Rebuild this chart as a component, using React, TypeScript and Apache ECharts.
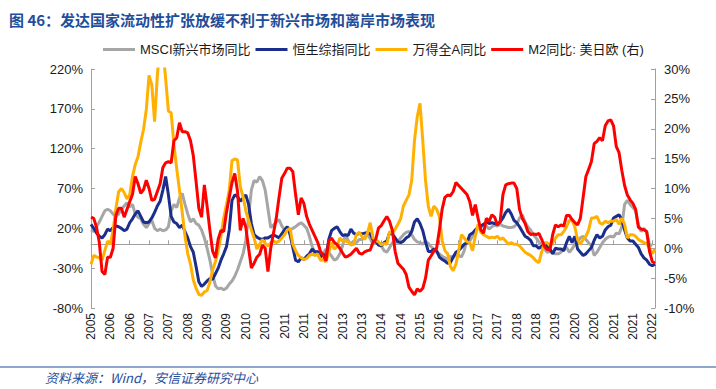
import React, { useEffect, useRef } from "react";
import * as echarts from "echarts";

// Monthly categories, July 2005 .. July 2022
const START_YEAR = 2005;
const START_MONTH = 7;
const N_MONTHS = 205;
const months: string[] = Array.from({ length: N_MONTHS }, (_, i) => {
  const t = START_YEAR * 12 + (START_MONTH - 1) + i;
  const y = Math.floor(t / 12);
  const m = (t % 12) + 1;
  return `${y}-${m < 10 ? "0" + m : m}`;
});

const seriesNames = ["MSCI新兴市场同比", "恒生综指同比", "万得全A同比", "M2同比: 美日欧 (右)"];

// MSCI emerging markets YoY (%)
const msci = [
  18, 16, 22, 28, 35, 42, 44, 42, 38, 35, 38, 44, 48, 52, 47, 50, 38, 34, 32, 25, 21, 26, 30, 20, 17, 19, 17, 18, 22, 42, 50, 46, 58, 64, 50,
  38, 28, 32, 26, 24, 18, 8, -5, -20, -38, -52, -56, -55, -57, -55, -50, -46, -40, -32, -22, -12, 5, 35, 68, 80, 78, 85, 80, 68, 45, 21, 24, 28, 31,
  23, 18, 22, 18, 20, 22, 25, 27, 24, 20, 10, -3, -10, -14, -16, -11, -6, -10, -15, -20, -18, -12, -2, 12, 5, 0, 4, 2, 6, 6, 9, 12, 7,
  0, 2, 0, -2, -8, -10, -4, 2, 2, 3, 8, 12, 15, 16, 12, 6, 3, 2, 0, 4, 1, -3, -6, -10, -12, -15, -17, -19, -15, -17, -12, -14, -16, -8,
  6, 4, 10, 16, 22, 21, 25, 23, 19, 22, 24, 23, 25, 23, 22, 21, 21, 22, 25, 33, 37, 28, 22, 18, 12, 8, 3, -2, -6, -10, -9, -11, -12,
  -12, -10, -5, -4, -10, -6, 0, 3, 8, 10, 6, 2, -2, -14, -10, -4, 2, 6, 9, 10, 9, 14, 13, 22, 50, 55, 50, 46, 42, 24, 16, 20, 15, 0, -2,
];

// Hang Seng Composite YoY (%)
const hsci = [
  25, 20, 14, 10, 8, 12, 19, 17, 21, 23, 22, 20, 17, 19, 27, 32, 38, 42, 35, 28, 27, 28, 33, 40, 48, 54, 68, 85, 62, 35, 28, 26, 21, 24, 16,
  8, -3, -10, -28, -47, -53, -50, -46, -43, -44, -37, -30, -20, -12, -3, 18, 55, 62, 60, 54, 58, 62, 50, 26, 12, 9, 7, 6, 8, 8, 10, 12, 10, 8,
  13, 18, 22, 12, -4, -20, -22, -17, -19, -15, -12, -6, -10, -9, -16, -12, -18, 6, 17, 20, 22, 16, 11, 12, 11, 19, 14, 12, 14, 13, 14, 15, 13, 6,
  4, -1, -2, 2, 4, 14, 13, 8, 3, 2, 4, 8, 10, 16, 28, 32, 26, 17, 3, -9, -9, -6, -8, -16, -19, -21, -24, -23, -16, -10, -8, -4, 0, 2,
  12, 14, 18, 21, 23, 25, 28, 26, 27, 26, 25, 28, 33, 40, 44, 38, 30, 27, 22, 16, 10, 8, 5, -2, -2, -5, -3, 0, -2, -6, -12, -5, -6,
  -6, -8, 2, 10, 2, 10, -6, -10, -14, -12, -8, -4, 5, 12, 8, 10, 18, 22, 24, 33, 35, 37, 31, 18, 8, 4, 4, 0, -4, -12, -17, -20, -25, -27, -25,
];

// Wind All A YoY (%)
const windA = [
  -25, -14, -16, -17, -20, -8, 4, 0, 18, 45, 66, 70, 65, 57, 62, 85, 100, 110, 128, 144, 169, 212, 200, 154, 212, 250, 245, 208, 167, 165, 125, 95, 68, 40, 10,
  -12, -25, -45, -55, -63, -64, -60, -58, -48, -32, -22, -8, 10, 33, 50, 68, 105, 107, 106, 72, 60, 42, 30, 18, 8, -6, 0, 6, 1, -2, 2, 4, 2, 4,
  8, 12, 18, 20, 0, -8, -14, -17, -19, -18, -14, -12, -14, -12, -20, -19, -22, -10, 2, -6, -3, 8, 4, 4, 3, -1, 0, 12, 15, 10, 6, 14, 27, 8,
  5, 3, -1, 1, 0, 16, 14, 19, 25, 32, 48, 55, 62, 80, 130, 160, 177, 130, 80, 48, 35, 48, 44, 35, 5, -8, -12, -28, -33, -25, -8, 12, 8, 3,
  2, -8, 10, 25, 15, 12, 10, 8, 9, 8, 10, 6, 8, 4, 0, 2, 0, 0, -2, -6, -10, -12, -14, -17, -21, -23, -10, 2, 2, -2, 2, 8, 12,
  12, 16, 22, 30, 30, 22, 6, 0, 6, 10, 18, 33, 33, 35, 27, 25, 29, 27, 29, 29, 31, 25, 33, 25, 8, 12, 12, 10, 6, 4, 2, 1, -5, -12, -6,
];

// M2 YoY US+Japan+Euro (%), right axis
const m2 = [
  5.2, 5.0, 3.5, 1, -3.9, -4.4, -1.5, -1.5, 0, 5.5, 6.7, 6.7, 5.2, 6.5, 7.8, 9, 12, 10.8, 9.2, 9.8, 11.4, 10, 8, 8.2, 9.5, 10.8, 13.5, 14.3, 14.5, 14.3, 18, 18.5, 21, 19.5, 19.5,
  19.3, 18, 15.5, 11.2, 6.7, 5.2, 10.6, 7, 3, -0.5, -1.6, 1.5, 3, 2.8, 6, 8.5, 11, 12.5, 9.5, 3, 5, 3.5, 0, -3.3, -2.5, -1.5, -1, 0.5, 0, -3.9, 0, 2.5, 5, 8.5,
  11.7, 12.5, 13.4, 13.4, 12.8, 9, 5.6, 8.4, 7.5, 5.3, 4, 3, 2, 1, -0.5, -1.2, -2.1, 1.2, 1.7, 1, 0.6, 0, -0.8, -1.5, -1.3, -1, -0.5, 0, -0.8, -1, -0.6, -0.4, -0.3, 1,
  1.5, 3.4, 3.8, 4.6, 5.3, 4.5, 3, -0.5, -2.5, -3, -3.5, -4.4, -6.5, -7.2, -7.8, -6.8, -7.2, -6.7, -5, -2, -1.3, -0.5, 0, 3, 6.5, 8.5, 8.9, 8.8, 9.5, 11, 10.5, 10, 9.5, 9,
  7.8, 5.5, 7.3, 5, 3.1, 2.5, 5, 4.5, 5.6, 5.2, 3.9, 4.5, 9, 10.6, 10.8, 10.9, 10.9, 10, 6.5, 5, 4.2, 2.8, 2.3, 2.4, 2.3, 2.5, 1.5, 0.3, -0.2, -0.3, 2.3, 3.9, 3.6,
  3.9, 3.7, 5.5, 5.5, 4.8, 4.3, 3.9, 5, 8.5, 12, 13.2, 14.5, 17.5, 17.9, 18.5, 18, 20.5, 21.3, 21.5, 20.5, 17, 16, 13, 10.5, 8.9, 8.1, 7.5, 6.5, 3.5, 3.2, 3.1, 2.8, -0.5, -2.2, -2.5,
];

const colors = ["#A6A6A6", "#1C2E8C", "#FFB000", "#FF0000"];
const FONT = "'Liberation Sans', Arial, 'Noto Sans CJK SC', sans-serif";
const CJK = "'Noto Sans CJK SC', sans-serif";
const BLUE_TEXT = "#1F4E9A";
const AXIS_GRAY = "#A0A0A0";

export default function App() {
  const ref = useRef<HTMLDivElement>(null);
  useEffect(() => {
    if (!ref.current) return;
    const chart = echarts.init(ref.current, null, { renderer: "svg" });
    const mk = (name: string, data: number[], color: string, yAxisIndex: number) => ({
      name,
      type: "line",
      data,
      yAxisIndex,
      showSymbol: false,
      symbol: "none",
      clip: true,
      lineStyle: { width: 3, color },
      itemStyle: { color },
    });
    chart.setOption({
      animation: false,
      backgroundColor: "#ffffff",
      title: {
        text: "图 46：发达国家流动性扩张放缓不利于新兴市场和离岸市场表现",
        left: 4,
        top: 7,
        textStyle: { fontSize: 15, fontWeight: "bold", color: BLUE_TEXT, fontFamily: CJK },
      },
      legend: {
        data: seriesNames,
        left: 98,
        top: 38,
        icon: "rect",
        itemWidth: 32,
        itemHeight: 3,
        itemGap: 5,
        textStyle: { fontSize: 13, color: "#1a1a1a", fontFamily: FONT },
      },
      grid: { left: 91, right: 61, top: 69, bottom: 81, containLabel: false },
      xAxis: {
        type: "category",
        data: months,
        boundaryGap: false,
        axisLine: { lineStyle: { color: AXIS_GRAY, width: 1 } },
        axisTick: { show: true, inside: true, interval: 6, length: 4, lineStyle: { color: AXIS_GRAY } },
        axisLabel: {
          interval: 6,
          rotate: 90,
          margin: 5,
          fontSize: 12,
          color: "#1a1a1a",
          fontFamily: FONT,
          formatter: (v: string) => v.slice(0, 4),
        },
        splitLine: { show: false },
      },
      yAxis: [
        {
          type: "value",
          min: -80,
          max: 220,
          interval: 50,
          axisLine: { show: true, lineStyle: { color: AXIS_GRAY } },
          axisTick: { show: true, inside: true, length: 4, lineStyle: { color: AXIS_GRAY } },
          axisLabel: { formatter: "{value}%", fontSize: 13, color: "#1a1a1a", fontFamily: FONT, margin: 8 },
          splitLine: { show: false },
        },
        {
          type: "value",
          position: "right",
          min: -10,
          max: 30,
          interval: 5,
          axisLine: { show: true, lineStyle: { color: AXIS_GRAY } },
          axisTick: { show: true, inside: true, length: 4, lineStyle: { color: AXIS_GRAY } },
          axisLabel: { formatter: "{value}%", fontSize: 13, color: "#1a1a1a", fontFamily: FONT, margin: 9 },
          splitLine: { show: false },
        },
      ],
      series: [
        mk(seriesNames[0], msci, colors[0], 0),
        mk(seriesNames[1], hsci, colors[1], 0),
        mk(seriesNames[2], windA, colors[2], 0),
        mk(seriesNames[3], m2, colors[3], 1),
      ],
      graphic: [
        {
          type: "line",
          shape: { x1: 0, y1: 367, x2: 716, y2: 367 },
          style: { stroke: BLUE_TEXT, lineWidth: 1 },
        },
        {
          type: "text",
          left: 45,
          top: 371,
          style: {
            text: "资料来源：Wind，安信证券研究中心",
            fontSize: 13,
            fontStyle: "italic",
            fill: BLUE_TEXT,
            fontFamily: CJK,
          },
        },
      ],
    });
    return () => chart.dispose();
  }, []);
  return (
    <div
      ref={ref}
      style={{ position: "absolute", left: 0, top: 0, width: 716, height: 389 }}
    />
  );
}
